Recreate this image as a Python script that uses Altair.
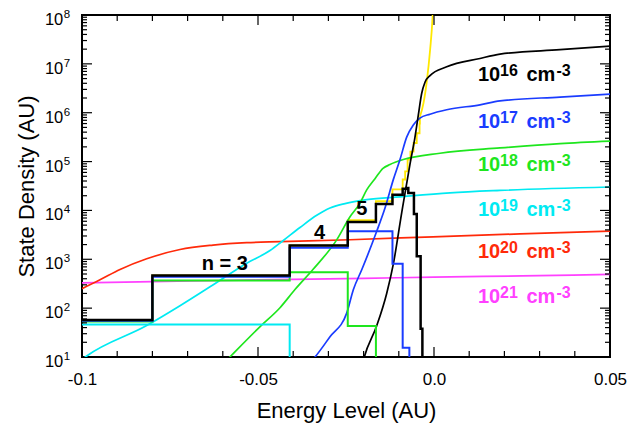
import altair as alt
import pandas as pd

W, H = 528, 342
FONT = "Liberation Sans"

# ---------------- data ----------------
# step (histogram) series: x where each level starts, and the level
black_step_x = [-0.1, -0.080, -0.041, -0.0245, -0.0165, -0.0118, -0.0089, -0.0078, -0.0073, -0.0057, -0.0049, -0.0038, -0.0033]
black_step_y = [57, 467, 1915, 5800, 13600, 21000, 27700, 28800, 22700, 8500, 1160, 38, 1]

yellow_step_x = [-0.1, -0.080, -0.041, -0.0245, -0.0165, -0.0118, -0.0089, -0.0082, -0.0075, -0.0067, -0.0058, -0.0049, -0.0041, -0.0040]
yellow_step_y = [57, 470, 1930, 6300, 15400, 27000, 43000, 63000, 110000, 160000, 240000, 380000, 600000, 830000]
yellow_tail_x = [-0.0040, -0.0030, -0.0021, -0.0011, -0.0004, -0.0001]
yellow_tail_y = [830000, 1.55e6, 4.1e6, 1.95e7, 9.3e7, 3e8]

blue_step_x = [-0.1, -0.080, -0.041, -0.0245, -0.0118, -0.0089, -0.0070]
blue_step_y = [55, 440, 1720, 3760, 810, 15.5, 1]

green_step_x = [-0.1, -0.080, -0.041, -0.0245, -0.0165]
green_step_y = [53, 367, 543, 43, 1]

cyan_step_x = [-0.1, -0.041]
cyan_step_y = [46, 1]

# smooth curves
black_x = [-0.0205, -0.0198, -0.0163, -0.01344, -0.01156, -0.00918, -0.00682, -0.0054, -0.00446, -0.00349, -0.00256, -0.00114, 0.00361, 0.01307, 0.01875, 0.0358, 0.05]
black_y = [6.3, 10, 43, 200, 794, 8900, 89000, 316000, 891000, 2.5e6, 4.2e6, 5.75e6, 8.7e6, 1.29e7, 1.58e7, 1.95e7, 2.3e7]

blue_x = [-0.0344, -0.0338, -0.02955, -0.0248, -0.0229, -0.0205, -0.0163, -0.01392, -0.01156, -0.00966, -0.00776, -0.00588, -0.0040, -0.00114, 0.00361, 0.01307, 0.01875, 0.0358, 0.05]
blue_y = [8.9, 10, 26, 79, 240, 617, 3700, 11200, 42700, 110000, 316000, 562000, 776000, 933000, 1.15e6, 1.45e6, 1.74e6, 2.09e6, 2.4e6]

green_x = [-0.0594, -0.058, -0.0494, -0.04375, -0.0395, -0.0344, -0.02764, -0.02386, -0.02102, -0.01912, -0.01676, -0.01449, -0.0125, -0.00872, 0.0017, 0.01875, 0.0358, 0.05]
green_y = [7.9, 10, 42, 102, 240, 617, 2500, 7400, 14100, 26300, 44700, 72400, 87000, 110000, 148000, 190000, 234000, 263000]

cyan_x = [-0.1, -0.09866, -0.08162, -0.07216, -0.0627, -0.05321, -0.04659, -0.04290, -0.03807, -0.03332, -0.02955, -0.02528, -0.01912, -0.00966, 0.00455, 0.01875, 0.05]
cyan_y = [8.9, 10.5, 44, 112, 302, 832, 1510, 2400, 4470, 7940, 11200, 13800, 16600, 19000, 22900, 25700, 30200]

red_x = [-0.1, -0.09489, -0.0892, -0.08162, -0.07216, -0.06278, -0.05321, -0.04375, -0.02386, -0.00028, 0.02443, 0.05]
red_y = [251, 380, 617, 1023, 1585, 1950, 2188, 2290, 2512, 2884, 3311, 3758]

magenta_x = [-0.1, -0.08, -0.06, -0.04, -0.02, 0.0, 0.025, 0.05]
magenta_y = [330, 350, 368, 388, 408, 430, 458, 490]

# density labels
dens_exp = ["16", "17", "18", "19", "20", "21"]
dens_color = ["#000000", "#1a3cff", "#1ee61e", "#00eaf2", "#ff2a0a", "#ff40ff"]
dens_x = [0.0125] * 6
dens_y = [4.38e6, 4.84e5, 6.3e4, 7550, 1059, 127]

# level labels
lvl_text = ["n = 3", "4", "5"]
lvl_x = [-0.0594, -0.0325, -0.0205]
lvl_y = [617, 2642, 8180]

# axis ticks
x_label_values = [-0.1, -0.05, 0.0, 0.05]
x_major_ticks = [-0.05, 0.0]
x_minor_ticks = [-0.09, -0.08, -0.07, -0.06, -0.04, -0.03, -0.02, -0.01, 0.01, 0.02, 0.03, 0.04]
y_exps = [1, 2, 3, 4, 5, 6, 7, 8]
y_major_ticks = [10.0 ** e for e in [2, 3, 4, 5, 6, 7]]
y_minor_ticks = [k * 10.0 ** e for e in [1, 2, 3, 4, 5, 6, 7] for k in [2, 3, 4, 5, 6, 7, 8, 9]]

# ---------------- chart ----------------
xs = alt.Scale(domain=[-0.1, 0.05], nice=False, zero=False)
ys = alt.Scale(type="log", domain=[10, 1e8], nice=False)

x_axis = alt.Axis(
    values=x_label_values,
    labelExpr="datum.value == 0 ? '0.0' : (datum.value < 0 ? '-' : '') + format(abs(datum.value), '.2~f')",
    labelFont=FONT, labelFontSize=17, labelColor="black", labelPadding=14, labelFlush=False,
    ticks=False, domain=False, grid=False,
    title="Energy Level (AU)", titleFont=FONT, titleFontSize=22, titleFontWeight="normal",
    titleColor="black", titleX=W / 2, titleY=60, titleBaseline="alphabetic", titleAlign="center",
)
y_axis = alt.Axis(
    labels=False, ticks=False, domain=False, grid=False,
    title="State Density (AU)", titleFont=FONT, titleFontSize=22, titleFontWeight="normal",
    titleColor="black", titleAngle=270, titleX=-49, titleY=H / 2, titleBaseline="alphabetic",
    titleAlign="center",
)

X = alt.X("x:Q", scale=xs, axis=x_axis)
Y = alt.Y("y:Q", scale=ys, axis=y_axis)


def df(xv, yv):
    return pd.DataFrame({"x": xv, "y": yv})


def step(xv, yv, color, width):
    return alt.Chart(df(xv, yv)).mark_line(
        interpolate="step-after", clip=True, color=color, strokeWidth=width
    ).encode(x=X, y=Y)


def smooth(xv, yv, color, width=1.7):
    return alt.Chart(df(xv, yv)).mark_line(
        interpolate="monotone", clip=True, color=color, strokeWidth=width
    ).encode(x=X, y=Y)


layers = [
    step(yellow_step_x, yellow_step_y, "#ffe800", 1.8),
    smooth(yellow_tail_x, yellow_tail_y, "#ffe800", 1.8),
    smooth(magenta_x, magenta_y, dens_color[5]),
    smooth(red_x, red_y, dens_color[4]),
    smooth(cyan_x, cyan_y, dens_color[3]),
    smooth(green_x, green_y, dens_color[2]),
    smooth(blue_x, blue_y, dens_color[1]),
    smooth(black_x, black_y, dens_color[0]),
    step(cyan_step_x, cyan_step_y, dens_color[3], 2),
    step(green_step_x, green_step_y, dens_color[2], 2),
    step(blue_step_x, blue_step_y, dens_color[1], 2),
    step(black_step_x, black_step_y, "#000000", 2.5),
]

# inward ticks on all four sides
def xticks(vals, length):
    d = pd.DataFrame({"x": vals})
    bot = alt.Chart(d).mark_rule(color="black", strokeWidth=1.2).encode(
        x=X, y=alt.value(H), y2=alt.value(H - length))
    top = alt.Chart(d).mark_rule(color="black", strokeWidth=1.2).encode(
        x=X, y=alt.value(0), y2=alt.value(length))
    return [bot, top]


def yticks(vals, length):
    d = pd.DataFrame({"y": vals})
    left = alt.Chart(d).mark_rule(color="black", strokeWidth=1.2).encode(
        y=Y, x=alt.value(0), x2=alt.value(length))
    right = alt.Chart(d).mark_rule(color="black", strokeWidth=1.2).encode(
        y=Y, x=alt.value(W), x2=alt.value(W - length))
    return [left, right]


layers += xticks(x_major_ticks, 10) + xticks(x_minor_ticks, 6)
layers += yticks(y_major_ticks, 10) + yticks(y_minor_ticks, 5)

# y tick labels 10^n
ylab = pd.DataFrame({"y": [10.0 ** e for e in y_exps], "base": ["10"] * len(y_exps), "exp": [str(e) for e in y_exps]})
layers.append(alt.Chart(ylab).mark_text(font=FONT, fontSize=16.5, align="right", baseline="middle", dy=5, color="black").encode(
    y=Y, x=alt.value(-18.7), text="base:N"))
layers.append(alt.Chart(ylab).mark_text(font=FONT, fontSize=11.5, align="left", baseline="middle", dy=0, color="black").encode(
    y=Y, x=alt.value(-18.3), text="exp:N"))

# density labels
dl = pd.DataFrame({"x": dens_x, "y": dens_y, "exp": dens_exp, "c": dens_color,
                   "base": ["10"] * 6, "cm": ["cm"] * 6, "m3": ["-3"] * 6})
for field, size, dx, dy in [("base", 20, 0, 0), ("exp", 16, 22, -5), ("cm", 20, 48.5, 0), ("m3", 16, 78.5, -5)]:
    layers.append(alt.Chart(dl).mark_text(font=FONT, fontSize=size, fontWeight="bold", align="left",
                                          baseline="alphabetic", dx=dx, dy=dy).encode(
        x=X, y=Y, text=f"{field}:N", color=alt.Color("c:N", scale=None)))

# level labels
ll = pd.DataFrame({"x": lvl_x, "y": lvl_y, "t": lvl_text})
layers.append(alt.Chart(ll).mark_text(font=FONT, fontSize=20, fontWeight="bold", align="center",
                                      baseline="alphabetic", color="black").encode(x=X, y=Y, text="t:N"))

chart = alt.layer(*layers).properties(
    width=W, height=H,
    padding={"left": 74, "top": 7, "right": 20, "bottom": 66},
    autosize=alt.AutoSizeParams(type="none"),
).configure_view(stroke="black", strokeWidth=2)

chart.save("out.html", embed_options={"renderer": "svg", "actions": False})
